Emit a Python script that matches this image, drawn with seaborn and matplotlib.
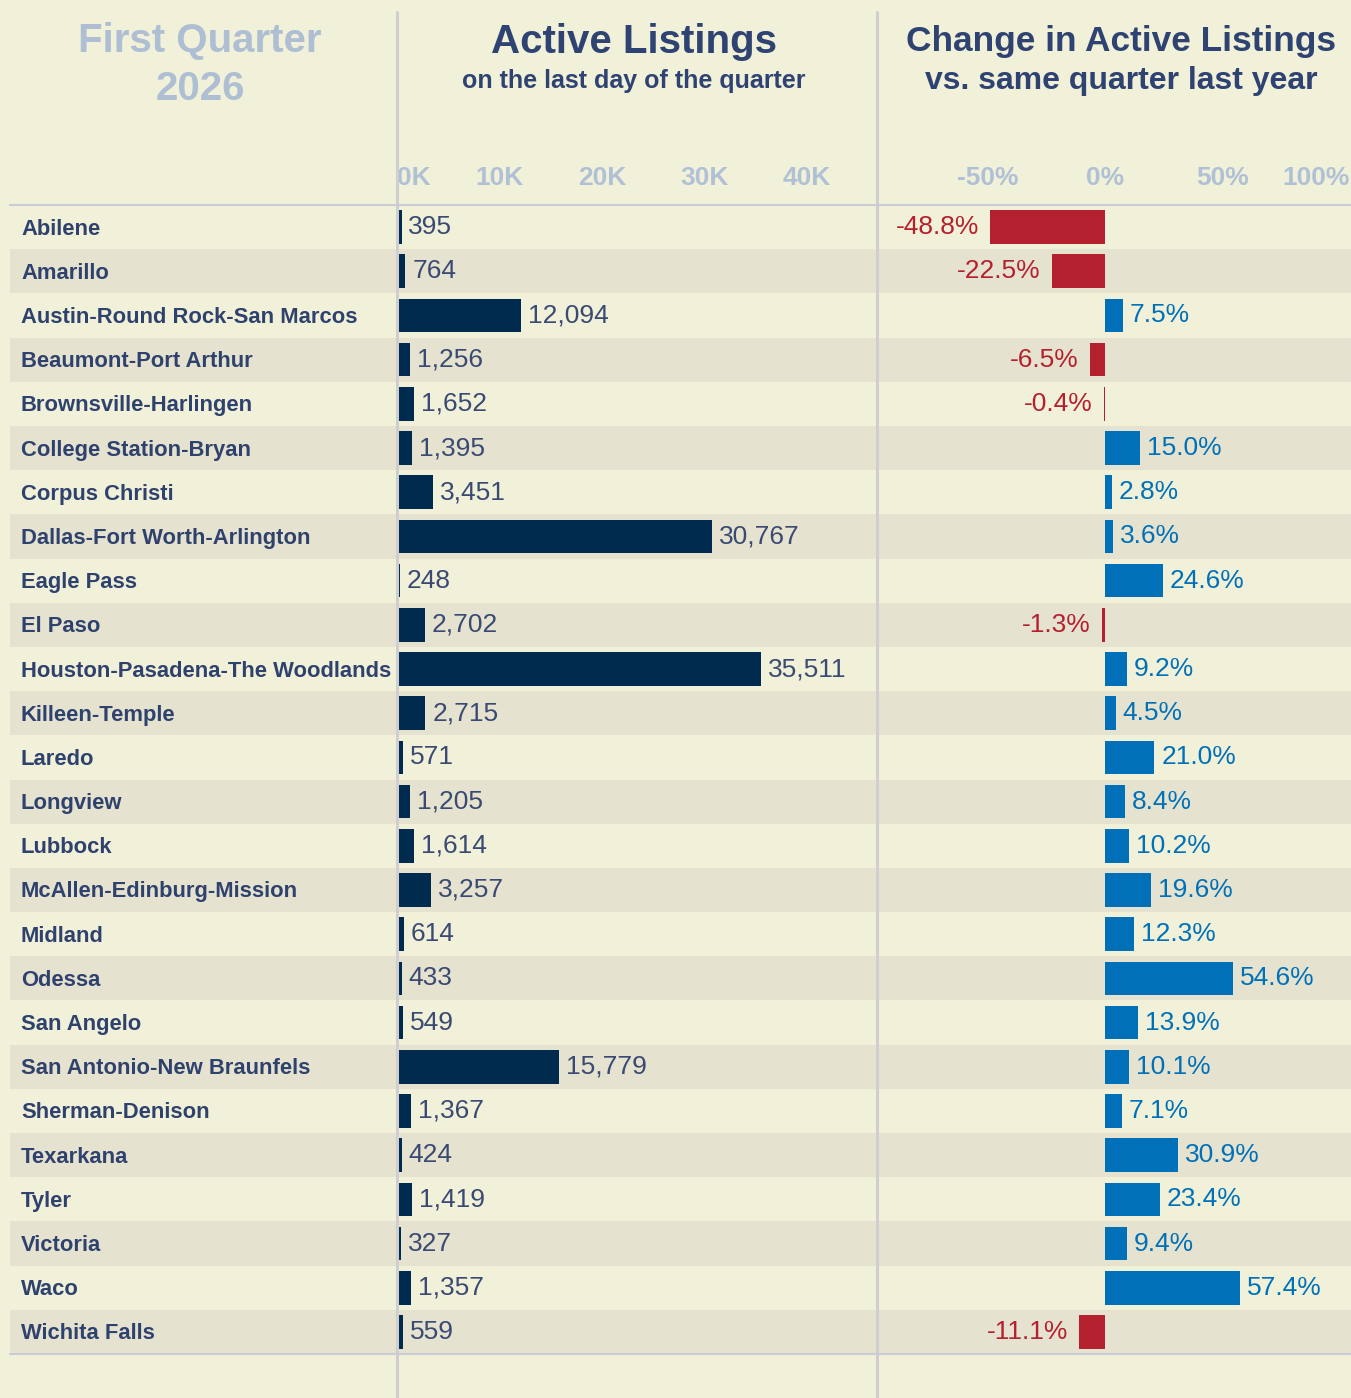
import matplotlib
matplotlib.use("Agg")
import matplotlib.pyplot as plt
import matplotlib.transforms as mtransforms
from matplotlib.lines import Line2D
import seaborn as sns
import pandas as pd
import numpy as np

# ---------------- data ----------------
metros = [
    "Abilene", "Amarillo", "Austin-Round Rock-San Marcos", "Beaumont-Port Arthur",
    "Brownsville-Harlingen", "College Station-Bryan", "Corpus Christi",
    "Dallas-Fort Worth-Arlington", "Eagle Pass", "El Paso",
    "Houston-Pasadena-The Woodlands", "Killeen-Temple", "Laredo", "Longview",
    "Lubbock", "McAllen-Edinburg-Mission", "Midland", "Odessa", "San Angelo",
    "San Antonio-New Braunfels", "Sherman-Denison", "Texarkana", "Tyler",
    "Victoria", "Waco", "Wichita Falls",
]
active_listings = [
    395, 764, 12094, 1256, 1652, 1395, 3451, 30767, 248, 2702, 35511, 2715, 571,
    1205, 1614, 3257, 614, 433, 549, 15779, 1367, 424, 1419, 327, 1357, 559,
]
pct_change = [
    -48.8, -22.5, 7.5, -6.5, -0.4, 15.0, 2.8, 3.6, 24.6, -1.3, 9.2, 4.5, 21.0,
    8.4, 10.2, 19.6, 12.3, 54.6, 13.9, 10.1, 7.1, 30.9, 23.4, 9.4, 57.4, -11.1,
]
listing_ticks = [0, 10000, 20000, 30000, 40000]
listing_tick_labels = ["0K", "10K", "20K", "30K", "40K"]
pct_ticks = [-50, 0, 50, 100]
pct_tick_labels = ["-50%", "0%", "50%", "100%"]

title_left = "First Quarter\n2026"
title_mid = "Active Listings"
sub_mid = "on the last day of the quarter"
title_right = "Change in Active Listings"
sub_right = "vs. same quarter last year"

# ---------------- style ----------------
BG = "#F1F1D9"
SHADE = "#E5E3D0"
NAVY_BAR = "#002B4F"
RED = "#B5202E"
BLUE = "#0070B8"
LABEL_C = "#2F416D"
VALUE_C = "#3A4A72"
TICK_C = "#B1C1D5"
TITLE_LIGHT = "#AEBED3"
TITLE_DARK = "#2F4372"
SEP_C = "#CFCFCF"
HLINE_C = "#C9CCD6"

sns.set_theme(style="white")
plt.rcParams["font.family"] = ["Liberation Sans", "DejaVu Sans"]

df = pd.DataFrame({"metro": metros, "listings": active_listings, "pct": pct_change})
df["sign"] = np.where(df["pct"] < 0, "neg", "pos")

W, H = 1351, 1398
fig = plt.figure(figsize=(W / 100, H / 100), dpi=100, facecolor=BG)

row_top, row_bot = 205, 1354
ax_b = 1 - row_bot / H
ax_h = (row_bot - row_top) / H
x0, x1, x2, x3 = 10, 397.5, 877, 1351

ax_l = fig.add_axes([x0 / W, ax_b, (x1 - x0) / W, ax_h])
ax_m = fig.add_axes([x1 / W, ax_b, (x2 - x1) / W, ax_h])
ax_r = fig.add_axes([x2 / W, ax_b, (x3 - x2) / W, ax_h])

n = len(metros)
for ax in (ax_l, ax_m, ax_r):
    ax.set_facecolor(BG)
    for i in range(1, n, 2):
        ax.axhspan(i - 0.5, i + 0.5, color=SHADE, lw=0, zorder=0)
    for s in ax.spines.values():
        s.set_visible(False)

down = mtransforms.ScaledTranslation(0, -2 / 100, fig.dpi_scale_trans)

# ---- middle: active listings ----
sns.barplot(data=df, x="listings", y="metro", orient="h", color=NAVY_BAR,
            saturation=1, width=0.76, linewidth=0, edgecolor="none", ax=ax_m, zorder=2)
ax_m.set_xlim(0, 46900)
for i, v in enumerate(active_listings):
    ax_m.annotate(f"{v:,}", xy=(v, i), xytext=(5, 0), textcoords="offset points",
                  ha="left", va="center", fontsize=19, color=VALUE_C)

# ---- right: change ----
sns.barplot(data=df, x="pct", y="metro", orient="h", hue="sign",
            palette={"neg": RED, "pos": BLUE}, saturation=1, width=0.76,
            linewidth=0, edgecolor="none",
            dodge=False, legend=False, ax=ax_r, zorder=2)
ax_r.set_xlim(-97, 104.7)
for i, v in enumerate(pct_change):
    if v < 0:
        ax_r.annotate(f"{v:.1f}%", xy=(v, i), xytext=(-8, 0), textcoords="offset points",
                      ha="right", va="center", fontsize=19, color=RED)
    else:
        ax_r.annotate(f"{v:.1f}%", xy=(v, i), xytext=(5, 0), textcoords="offset points",
                      ha="left", va="center", fontsize=19, color=BLUE)

# ---- left: labels ----
ax_l.set_xlim(0, 1)
for i, name in enumerate(metros):
    ax_l.text((21 - x0) / (x1 - x0), i, name, ha="left", va="center",
              fontsize=15.8, fontweight="bold", color=LABEL_C,
              transform=ax_l.transData + down)

for ax in (ax_l, ax_m, ax_r):
    ax.set_ylim(n - 0.5, -0.5)
    ax.set_ylabel("")
    ax.set_xlabel("")
    ax.set_yticks([])

ax_l.set_xticks([])

for ax, ticks, labels in ((ax_m, listing_ticks, listing_tick_labels),
                          (ax_r, pct_ticks, pct_tick_labels)):
    ax.xaxis.set_ticks_position("top")
    ax.set_xticks(ticks)
    ax.set_xticklabels(labels)
    ax.tick_params(axis="x", length=0, pad=11, labelsize=19, labelcolor=TICK_C,
                   top=True, labeltop=True, bottom=False, labelbottom=False)
    for lab in ax.get_xticklabels():
        lab.set_fontweight("bold")

ax_m.get_xticklabels()[0].set_horizontalalignment("left")
last = ax_r.xaxis.get_major_ticks()[-1].label2
last.set_horizontalalignment("right")
last.set_transform(last.get_transform() +
                   mtransforms.ScaledTranslation(10 / 100, 0, fig.dpi_scale_trans))

# ---- separators ----
for xp in (397, 877):
    fig.add_artist(Line2D([xp / W, xp / W], [0, 1 - 12 / H], transform=fig.transFigure,
                          color=SEP_C, lw=2.2, zorder=5))
for yp in (row_top - 0.5, row_bot):
    fig.add_artist(Line2D([x0 / W, 1], [1 - yp / H, 1 - yp / H], transform=fig.transFigure,
                          color=HLINE_C, lw=1.5, zorder=5))

# ---- titles ----
fig.text(200 / W, 1 - 65 / H, title_left, ha="center", va="center", fontsize=29,
         fontweight="bold", color=TITLE_LIGHT, linespacing=1.32)
fig.text(634 / W, 1 - 42 / H, title_mid, ha="center", va="center", fontsize=29,
         fontweight="bold", color=TITLE_DARK)
fig.text(634 / W, 1 - 81 / H, sub_mid, ha="center", va="center", fontsize=18,
         fontweight="bold", color=TITLE_DARK)
fig.text(1121 / W, 1 - 41 / H, title_right, ha="center", va="center", fontsize=25.4,
         fontweight="bold", color=TITLE_DARK)
fig.text(1121 / W, 1 - 81 / H, sub_right, ha="center", va="center", fontsize=23,
         fontweight="bold", color=TITLE_DARK)

fig.savefig("out.png", dpi=100, facecolor=BG)
